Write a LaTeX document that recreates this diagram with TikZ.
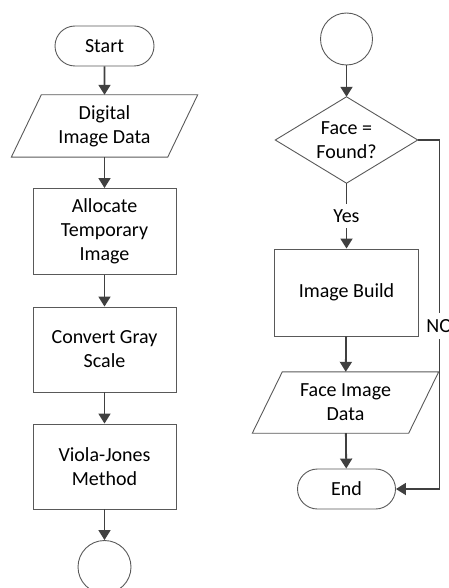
\documentclass[tikz,border=0pt]{standalone}
\usepackage{fontspec}
\setmainfont{Carlito}
\usetikzlibrary{arrows.meta,shapes.misc,calc}
\definecolor{connc}{HTML}{404040}
\definecolor{edgec}{HTML}{595959}
\begin{document}
\begin{tikzpicture}[x=1pt,y=-1pt,
  every node/.style={font=\fontsize{20}{24}\selectfont, align=center, text=black},
  term/.style={rounded rectangle, draw=edgec, line width=0.9pt, minimum width=99pt, minimum height=40pt, inner sep=0pt},
  proc/.style={rectangle, draw=edgec, line width=0.9pt, minimum width=143pt, minimum height=86pt, inner sep=0pt},
  iobox/.style={rectangle, minimum width=156pt, minimum height=62pt, inner sep=0pt},
  decbox/.style={rectangle, minimum width=142pt, minimum height=86pt, inner sep=0pt},
  conncircle/.style={circle, draw=edgec, line width=0.9pt, minimum size=53pt, inner sep=0pt},
  flow/.style={draw=connc, line width=1.8pt, -{Triangle[length=10pt,width=12pt]}},
  plainline/.style={draw=connc, line width=1.8pt},
  shapeline/.style={draw=edgec, line width=0.9pt, line join=miter}
]
\useasboundingbox (0,0) rectangle (449,588);
% left column
\node[term] (start) at (104.5,46) {Start};
\node[iobox] (d1) at (104.5,126) {Digital\\Image Data};
\draw[shapeline] ($(d1.north west)+(15,0)$) -- ($(d1.north east)+(15,0)$) -- ($(d1.south east)+(-15,0)$) -- ($(d1.south west)+(-15,0)$) -- cycle;
\node[proc] (alloc) at (104.5,231.5) {Allocate\\Temporary\\Image};
\node[proc, minimum height=85pt] (conv) at (104.5,349.5) {Convert Gray\\Scale};
\node[proc, minimum height=85pt] (viola) at (104.5,466.5) {Viola-Jones\\Method};
\node[conncircle] (c1) at (104.5,567) {};
\draw[flow] (start) -- (d1);
\draw[flow] (d1) -- (alloc);
\draw[flow] (alloc) -- (conv);
\draw[flow] (conv) -- (viola);
\draw[flow] (viola) -- (c1);
% right column
\node[conncircle, minimum size=52pt] (c2) at (346.5,39) {};
\node[decbox] (dec) at (346.5,140) {Face =\\Found?};
\draw[shapeline] (dec.north) -- (dec.east) -- (dec.south) -- (dec.west) -- cycle;
\node[inner sep=0pt, minimum height=24pt] (yes) at (346.5,216) {Yes};
\node[proc, minimum width=144pt, minimum height=87pt] (build) at (346.5,292.5) {Image Build};
\node[iobox, minimum height=61pt] (d2) at (345.5,402.5) {Face Image\\Data};
\draw[shapeline] ($(d2.north west)+(15,0)$) -- ($(d2.north east)+(15,0)$) -- ($(d2.south east)+(-15,0)$) -- ($(d2.south west)+(-15,0)$) -- cycle;
\node[term, minimum width=98pt] (end) at (346.5,489) {End};
\coordinate (nox) at (439.5,300);
\draw[flow] (c2) -- (dec.north);
\draw[plainline] (dec.south) -- (yes);
\draw[flow] (yes) -- (build);
\draw[flow] (build) -- (d2);
\draw[flow] (d2) -- (end);
\draw[flow] (dec.east) -- (dec.east -| nox) -- (end.east -| nox) -- (end.east);
\node[fill=white, inner xsep=1pt, inner ysep=0pt, minimum height=26pt] (no) at (439.5,326) {NO};
\end{tikzpicture}
\end{document}
